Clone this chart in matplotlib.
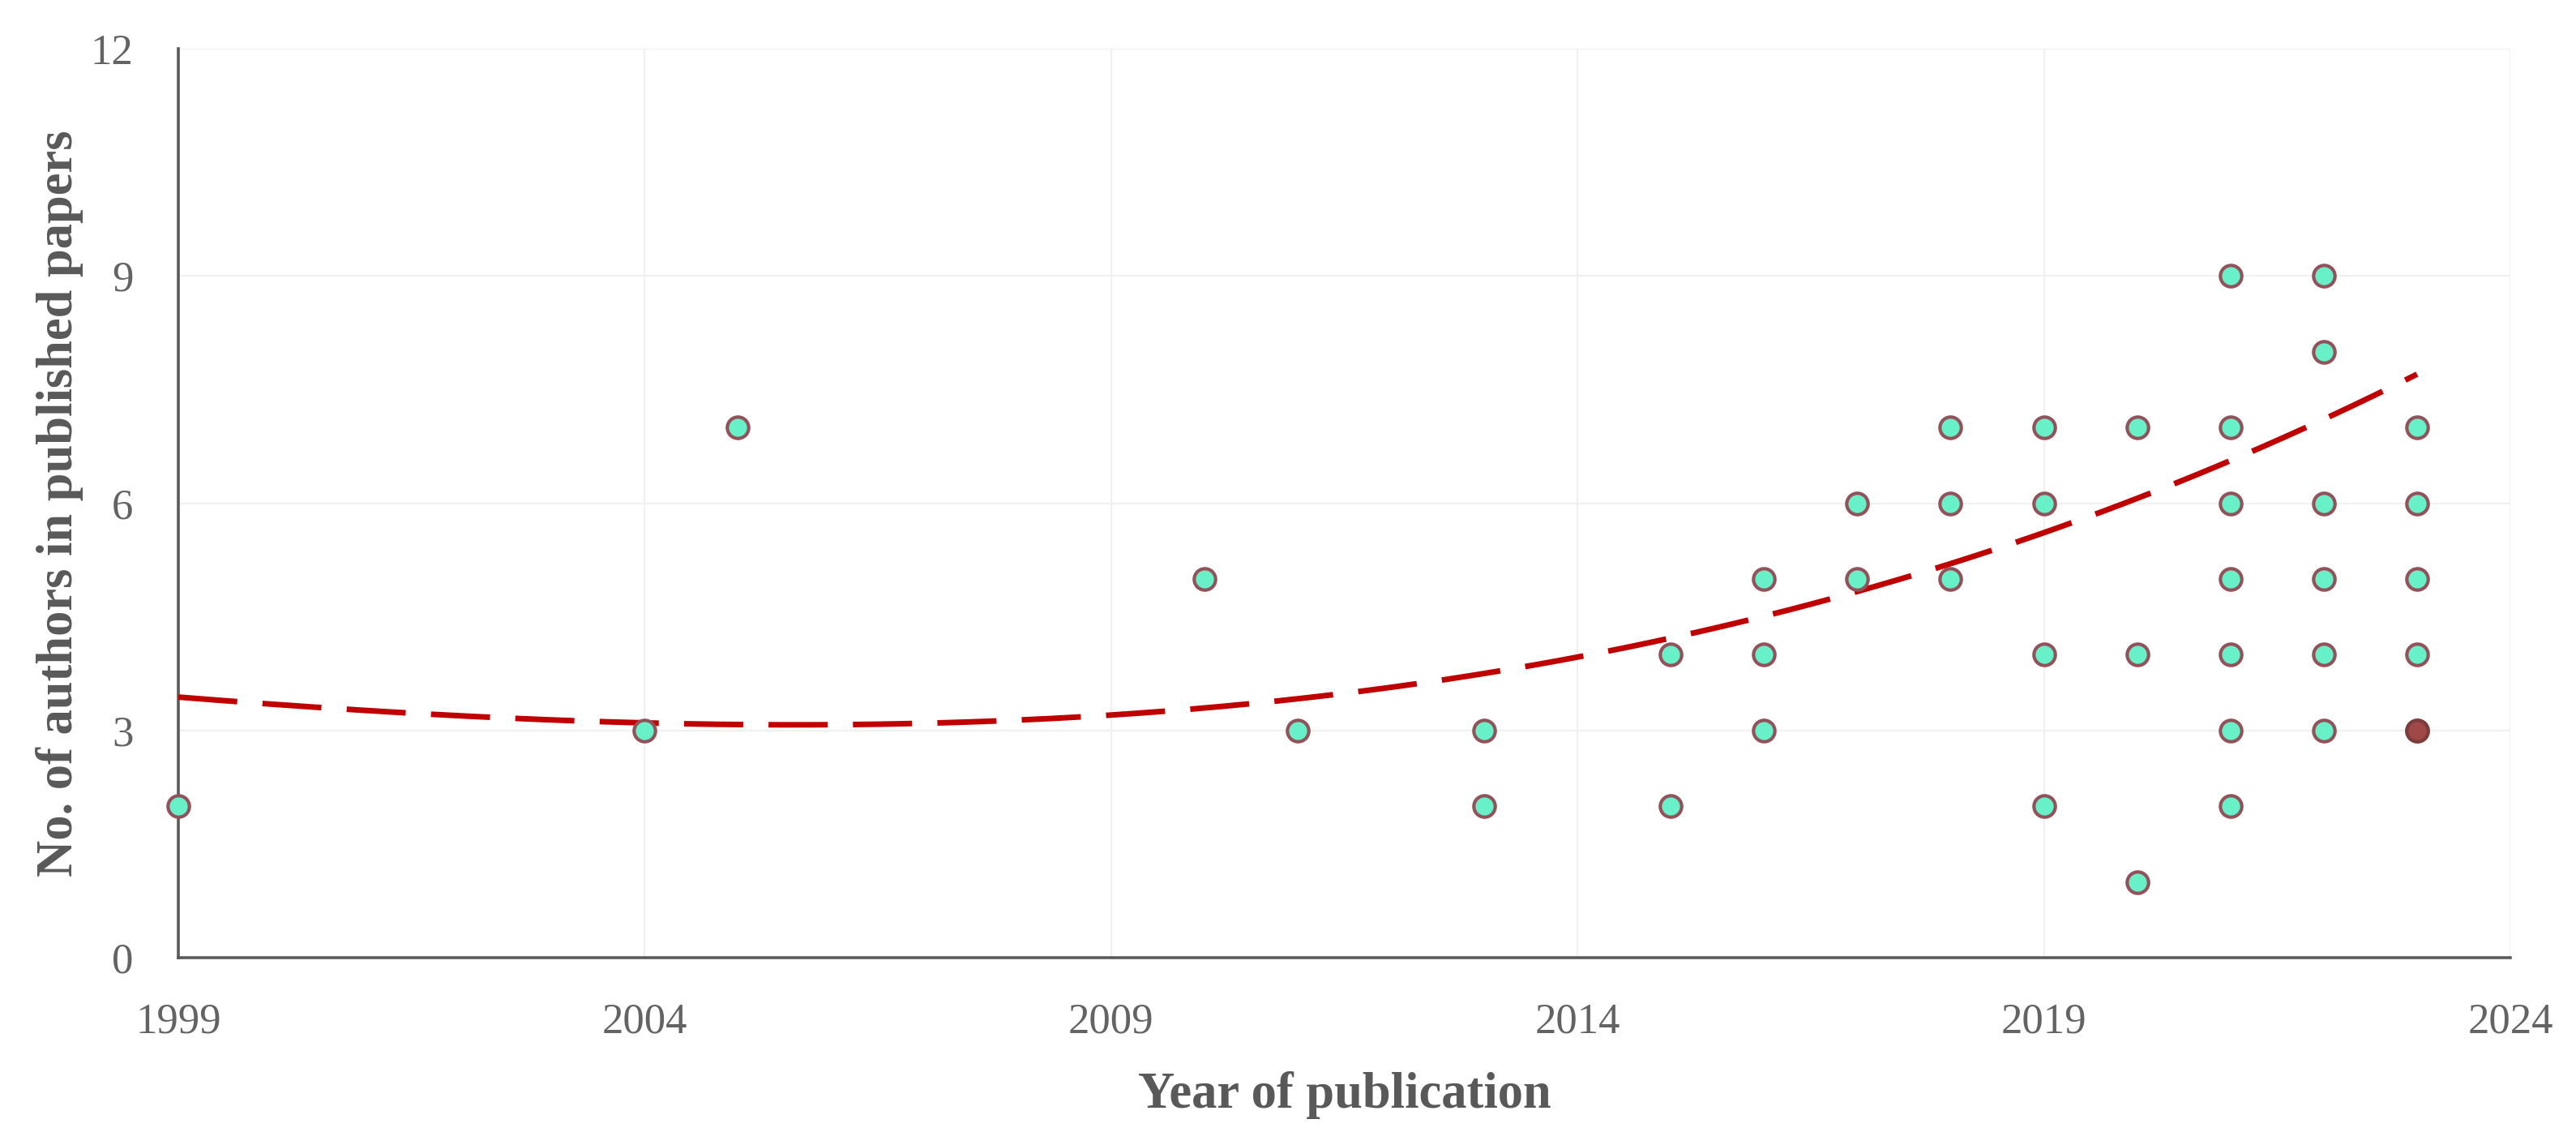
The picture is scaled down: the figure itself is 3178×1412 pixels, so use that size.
import numpy as np
import matplotlib.pyplot as plt

# year of publication and number of authors, one entry per visible point
years = [1999, 2004, 2005, 2010, 2011,
         2013, 2013, 2015, 2015,
         2016, 2016, 2016, 2017, 2017,
         2018, 2018, 2018,
         2019, 2019, 2019, 2019,
         2020, 2020, 2020,
         2021, 2021, 2021, 2021, 2021, 2021, 2021,
         2022, 2022, 2022, 2022, 2022, 2022,
         2023, 2023, 2023, 2023, 2023]
authors = [2, 3, 7, 5, 3,
           3, 2, 4, 2,
           5, 4, 3, 6, 5,
           7, 6, 5,
           7, 6, 4, 2,
           7, 4, 1,
           9, 7, 6, 5, 4, 3, 2,
           9, 8, 6, 5, 4, 3,
           7, 6, 5, 4, 3]

# the darker marker (2023, 3 authors)
dark_year = [2023]
dark_authors = [3]

# polynomial trend line
trend_years = [1999, 2001, 2003, 2006, 2008, 2010, 2012, 2015, 2017, 2019, 2021, 2023]
trend_vals = [3.44, 3.26, 3.14, 3.08, 3.15, 3.30, 3.55, 4.20, 4.85, 5.60, 6.60, 7.68]

x_ticks = [1999, 2004, 2009, 2014, 2019, 2024]
y_ticks = [0, 3, 6, 9, 12]

plt.rcParams['font.family'] = ['Liberation Serif', 'DejaVu Serif']

fig = plt.figure(figsize=(31.78, 14.12), dpi=100)
ax = fig.add_axes([0.0692, 0.1636, 0.9053, 0.7939])

ax.set_xlim(1999, 2024)
ax.set_ylim(0, 12)
ax.set_xticks(x_ticks)
ax.set_yticks(y_ticks)
ax.grid(True, color='#F0F0F0', linewidth=1.5, zorder=0)
ax.set_axisbelow(True)

for s in ['top', 'right']:
    ax.spines[s].set_visible(False)
for s in ['left', 'bottom']:
    ax.spines[s].set_color('#5a5a5a')
    ax.spines[s].set_linewidth(2.6)
    ax.spines[s].set_zorder(2)

ax.tick_params(length=0, labelsize=38, labelcolor='#636363', pad=40)

# trend (cubic, like the spreadsheet trendline)
coef = np.polyfit(trend_years, trend_vals, 3)
tx = np.linspace(1999, 2023, 400)
ax.plot(tx, np.polyval(coef, tx), color='#C00000', linewidth=5,
        linestyle=(0, (10.5, 4.5)), zorder=3)

ax.plot(years, authors, linestyle='none', marker='o', markersize=19,
        markerfacecolor='#68F0C8', markeredgecolor='#93525A',
        markeredgewidth=3, zorder=4, clip_on=False)
ax.plot(dark_year, dark_authors, linestyle='none', marker='o', markersize=19,
        markerfacecolor='#A04848', markeredgecolor='#7D3C3C',
        markeredgewidth=3, zorder=5, clip_on=False)

ax.set_xlabel('Year of publication', fontsize=45, fontweight='bold', color='#595959')
ax.xaxis.label.set_va('center')
ax.xaxis.set_label_coords(0.5, -0.151)
ax.set_ylabel('No. of authors in published papers', fontsize=45, fontweight='bold',
              color='#595959')
ax.yaxis.label.set_va('center')
ax.yaxis.set_label_coords(-0.051, 0.5)

fig.savefig('out.png', dpi=100, facecolor='white')
